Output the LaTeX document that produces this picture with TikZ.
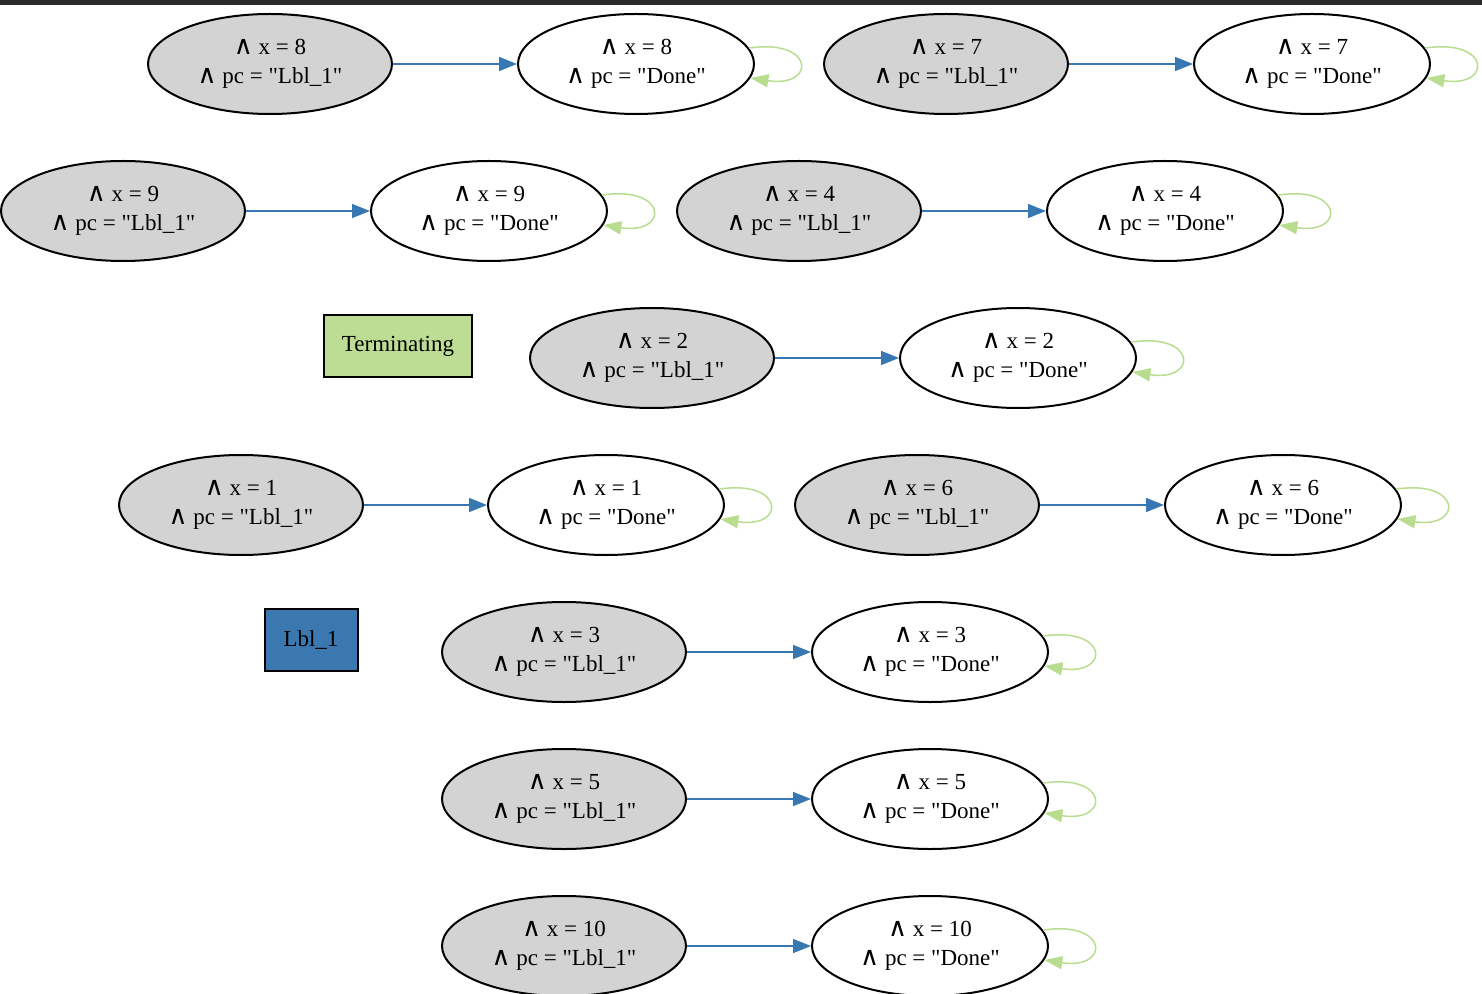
\documentclass[tikz,border=0pt]{standalone}
\usepackage{fontspec}
\setmainfont{Liberation Serif}
\newfontfamily\opfont{DejaVu Sans}
\usetikzlibrary{shapes.geometric,arrows.meta}
\definecolor{edgeblue}{RGB}{56,120,178}
\definecolor{loopgreen}{RGB}{184,221,143}
\definecolor{termgreen}{RGB}{189,221,148}
\definecolor{lblblue}{RGB}{59,120,176}
\definecolor{topbar}{RGB}{43,43,43}
\definecolor{initgray}{RGB}{211,211,211}
\newcommand{\conj}{{\opfont\fontsize{13}{14.5}\selectfont ∧}}
\newcommand{\dq}{\textquotedbl}
\begin{document}
\begin{tikzpicture}[x=0.5pt,y=-0.5pt,
  state/.style={ellipse, draw, line width=1pt, minimum height=50pt, inner sep=0pt,
    align=center, font=\fontsize{11.5}{14.5}\selectfont},
  init/.style={state, fill=initgray, minimum width=122pt},
  done/.style={state, fill=white, minimum width=118pt},
  legend/.style={rectangle, draw, line width=1pt, minimum height=31pt, inner sep=0pt,
    font=\fontsize{11.5}{14.5}\selectfont},
  trans/.style={edgeblue, line width=0.75pt, -{Triangle[length=9pt,width=7pt]}},
  selfloop/.style={loopgreen, line width=0.75pt, -{Triangle[length=9pt,width=6.5pt]}}
]
\useasboundingbox (0,0) rectangle (1482,994);
\fill[topbar] (0,0) rectangle (1482,5);

% state pairs: x = n with pc = "Lbl_1" and pc = "Done"
\foreach \n/\gx/\wx/\y in {8/270/636/64, 7/946/1312/64, 9/123/489/211, 4/799/1165/211,
    2/652/1018/358, 1/241/606/505, 6/917/1283/505, 3/564/930/652, 5/564/930/799,
    10/564/930/946}{
  \node[init] (g\n) at (\gx,\y) {\conj\ x = \n\\\conj\ pc = \dq Lbl\_1\dq};
  \node[done] (w\n) at (\wx,\y) {\conj\ x = \n\\\conj\ pc = \dq Done\dq};
  \draw[trans] (g\n) -- (w\n);
  \draw[selfloop] (w\n.8) .. controls +(66,-10) and +(66,10) .. (w\n.-7);
}

\node[legend, fill=termgreen, minimum width=74pt] (term) at (398,346) {Terminating};
\node[legend, fill=lblblue, minimum width=46.5pt] (lbl) at (311,640) {Lbl\_1};
\end{tikzpicture}
\end{document}
